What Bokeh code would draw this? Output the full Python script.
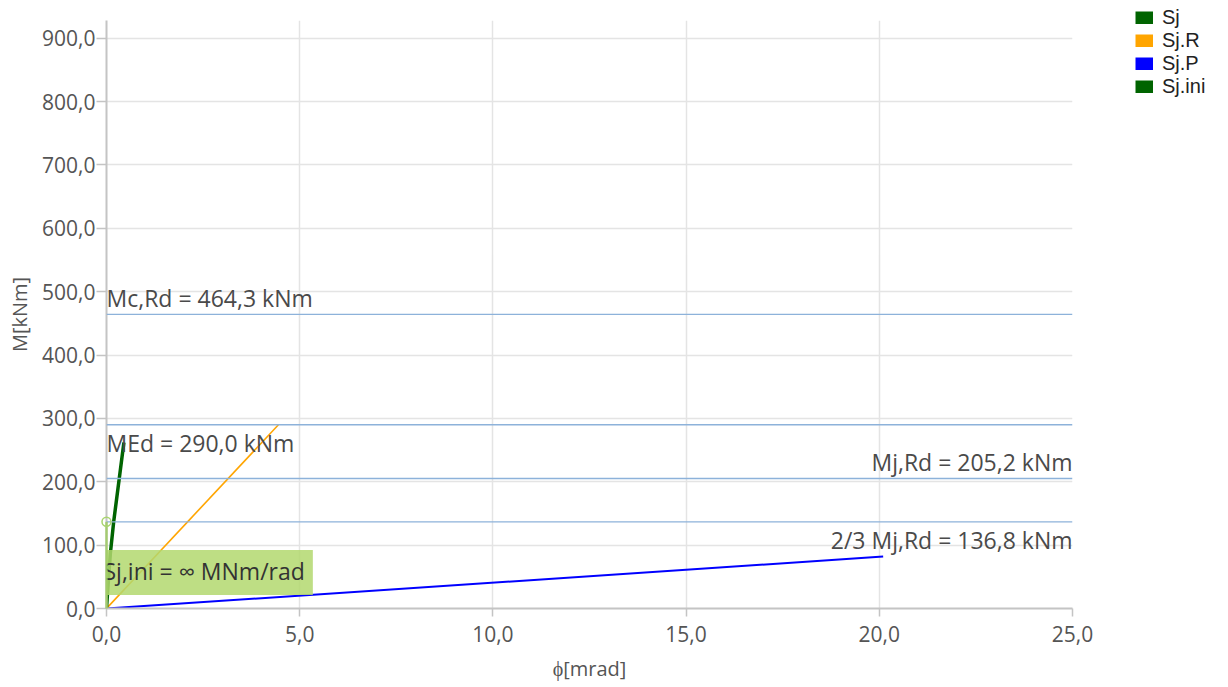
from bokeh.plotting import figure
from bokeh.models import (Span, Label, Legend, LegendItem, FixedTicker,
                          CustomJSTickFormatter, Range1d)
from bokeh.embed import file_html
from bokeh.resources import INLINE

# ---------------- data ----------------
sj_phi = [0.0, 0.05, 0.10, 0.19, 0.30, 0.45]
sj_m = [0.0, 45.0, 87.0, 139.0, 191.0, 262.0]

sjr_phi = [0.0, 4.45]
sjr_m = [0.0, 290.0]

sjp_phi = [0.0, 20.1]
sjp_m = [0.0, 82.0]

sjini_phi = [0.0, 0.0]
sjini_m = [0.0, 136.8]

levels = [464.3, 290.0, 205.2, 136.8]
level_names = ["Mc,Rd", "MEd", "Mj,Rd", "2/3 Mj,Rd"]
level_side = ["left", "left", "right", "right"]      # where the label sits
level_pos = ["above", "below", "above", "below"]

legend_labels = ["Sj", "Sj.R", "Sj.P", "Sj.ini"]
legend_colors = ["#006400", "#FFA500", "#0000FF", "#006400"]

x_ticks = [0, 5, 10, 15, 20, 25]
y_ticks = [0, 100, 200, 300, 400, 500, 600, 700, 800, 900]
x_max = 25.0
y_max = 928.0

FONT = "Open Sans"
TXT = "#4a4a4a"

p = figure(output_backend="svg", toolbar_location=None,
           frame_width=966, frame_height=588,
           min_border_left=106, min_border_top=20,
           min_border_right=148, min_border_bottom=76,
           x_range=Range1d(0, x_max), y_range=Range1d(0, y_max))
p.outline_line_color = None
p.background_fill_color = "white"
p.border_fill_color = "white"

fmt = CustomJSTickFormatter(code="return tick.toFixed(1).replace('.', ',');")
for ax in (p.xaxis[0], p.yaxis[0]):
    ax.formatter = fmt
    ax.major_label_text_font = FONT
    ax.major_label_text_font_size = "21px"
    ax.major_label_text_color = "#555555"
    ax.axis_label_text_font = FONT
    ax.axis_label_text_font_size = "20px"
    ax.axis_label_text_color = "#555555"
    ax.axis_label_text_font_style = "normal"
    ax.axis_line_color = "#c4c4c4"
    ax.axis_line_width = 2
    ax.major_tick_line_color = "#c4c4c4"
    ax.major_tick_line_width = 1.5
    ax.major_tick_in = 0
    ax.minor_tick_line_color = None

p.xaxis[0].major_tick_out = 8
p.yaxis[0].major_tick_out = 10
p.xaxis[0].ticker = FixedTicker(ticks=x_ticks)
p.yaxis[0].ticker = FixedTicker(ticks=y_ticks)
p.xaxis[0].axis_label = "ϕ[mrad]"
p.yaxis[0].axis_label = "M[kNm]"
p.xaxis[0].major_label_standoff = 9
p.xaxis[0].axis_label_standoff = 10
p.yaxis[0].major_label_standoff = 1
p.yaxis[0].axis_label_standoff = 6

for g in (p.xgrid[0], p.ygrid[0]):
    g.grid_line_color = "#e4e4e4"
    g.grid_line_width = 1.5
p.xgrid[0].ticker = FixedTicker(ticks=x_ticks)
p.ygrid[0].ticker = FixedTicker(ticks=y_ticks)

# reference levels
for v in levels:
    p.add_layout(Span(location=v, dimension="width", line_color="#8db2da", line_width=1.3))

# curves
p.line(sjp_phi, sjp_m, line_color="#0000FF", line_width=2)
p.line(sjr_phi, sjr_m, line_color="#FFA500", line_width=1.6)
p.line(sj_phi, sj_m, line_color="#006400", line_width=3.5)
p.line(sjini_phi, sjini_m, line_color="#9ccc5c", line_width=2.5, line_alpha=0.8,
       level="overlay")
p.scatter([sjini_phi[-1]], [sjini_m[-1]], marker="circle", size=9,
          line_color="#a8d46e", fill_color="white", fill_alpha=0, line_width=1.5,
          level="overlay")

# level labels
for v, n, side, pos in zip(levels, level_names, level_side, level_pos):
    txt = f"{n} = " + f"{v:.1f}".replace(".", ",") + " kNm"
    x = 0.0 if side == "left" else x_max
    p.add_layout(Label(x=x, y=v, text=txt, text_font=FONT,
                       text_font_size="23px", text_color=TXT,
                       text_align=side,
                       text_baseline="bottom" if pos == "above" else "top",
                       y_offset=0 if pos == "above" else -2))

# Sj,ini label box
p.add_layout(Label(x=0.0, y=57.0, x_offset=-8, text="Sj,ini = ∞ MNm/rad", text_font=FONT,
                   text_font_size="23px", text_color="#333333",
                   text_align="left", text_baseline="middle",
                   background_fill_color="#b3d86e", background_fill_alpha=0.85,
                   padding=(5, 8, 5, 8)))

# legend with square swatches: one-point line renderers (draw nothing in the plot)
series_last = [(sj_phi[-1], sj_m[-1]), (sjr_phi[-1], sjr_m[-1]),
               (sjp_phi[-1], sjp_m[-1]), (sjini_phi[-1], sjini_m[-1])]
items = []
for lab, col, (lx, ly) in zip(legend_labels, legend_colors, series_last):
    r = p.line(x=[lx], y=[ly], line_color=col, line_width=13, line_cap="butt")
    items.append(LegendItem(label=lab, renderers=[r]))
leg = Legend(items=items, location=(63, 510), orientation="vertical",
             glyph_width=18, glyph_height=13, label_height=21, spacing=0,
             label_text_font="Liberation Sans", label_text_font_size="20px",
             label_text_color="#222222", label_standoff=9,
             border_line_color=None, background_fill_alpha=0,
             padding=0, margin=0)
p.add_layout(leg, "right")

open("out.html", "w").write(file_html(p, INLINE))
